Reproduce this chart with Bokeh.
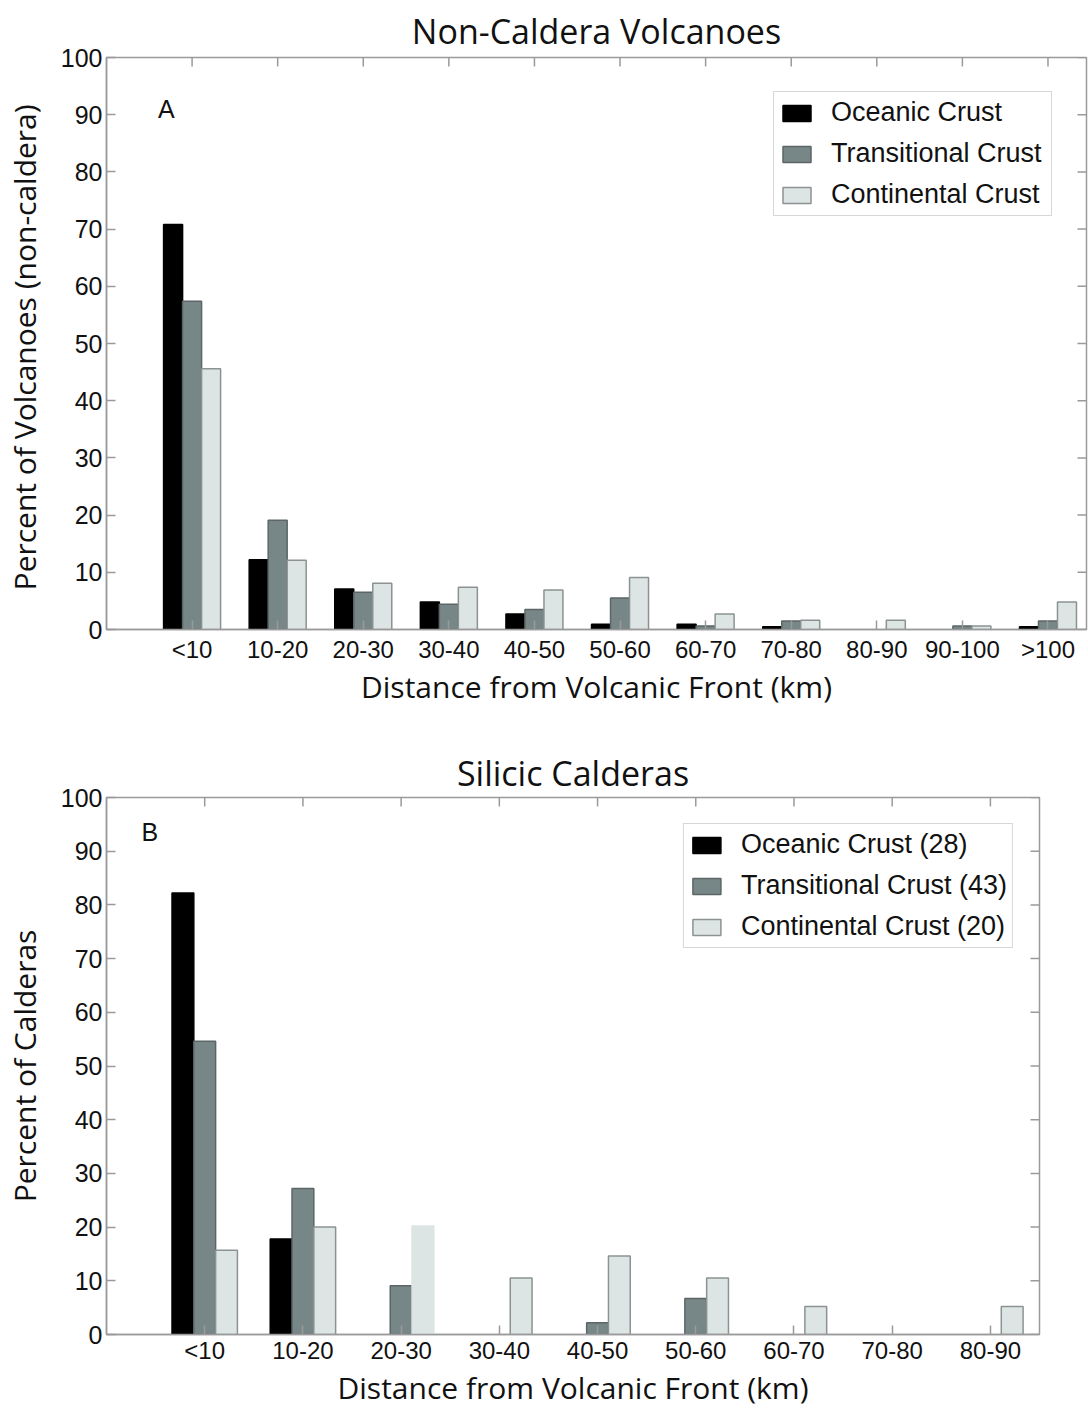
from bokeh.plotting import figure
from bokeh.models import Range1d, FixedTicker, Label, Legend, LegendItem, ColumnDataSource
from bokeh.layouts import column
from bokeh.embed import file_html
from bokeh.resources import INLINE
import numpy as np

# ---------------- data ----------------
cats_a = ["<10", "10-20", "20-30", "30-40", "40-50", "50-60", "60-70", "70-80", "80-90", "90-100", ">100"]
oceanic_a = [70.8, 12.2, 7.1, 4.8, 2.7, 0.9, 0.9, 0.5, 0.0, 0.0, 0.5]
transitional_a = [57.4, 19.1, 6.5, 4.4, 3.5, 5.5, 0.6, 1.5, 0.0, 0.6, 1.5]
continental_a = [45.6, 12.1, 8.1, 7.4, 6.9, 9.1, 2.7, 1.6, 1.6, 0.6, 4.8]

cats_b = ["<10", "10-20", "20-30", "30-40", "40-50", "50-60", "60-70", "70-80", "80-90"]
oceanic_b = [82.2, 17.8, 0.0, 0.0, 0.0, 0.0, 0.0, 0.0, 0.0]
transitional_b = [54.6, 27.2, 9.1, 0.0, 2.2, 6.7, 0.0, 0.0, 0.0]
continental_b = [15.7, 20.0, 20.2, 10.5, 14.6, 10.5, 5.2, 0.0, 5.2]

legend_a = ["Oceanic Crust", "Transitional Crust", "Continental Crust"]
legend_b = ["Oceanic Crust (28)", "Transitional Crust (43)", "Continental Crust (20)"]
y_ticks = list(range(0, 101, 10))

# ---------------- style ----------------
AX = "#9a9a9a"
FILLS = ["#000000", "#778787", "#dde4e4"]
LINES = ["#000000", "#5c6666", "#8c9292"]
BAR_W = 0.222
OFFS = [-BAR_W, 0.0, BAR_W]
TICK_FONT = "Liberation Sans"
LAB_FONT = "Open Sans"


def style_axis(ax, ticks, labels, size):
    ax.ticker = FixedTicker(ticks=ticks)
    ax.axis_line_color = AX
    ax.axis_line_width = 1.5
    ax.major_tick_line_color = AX
    ax.major_tick_line_width = 1.5
    ax.major_tick_in = 9
    ax.major_tick_out = 0
    ax.minor_tick_line_color = None
    ax.major_label_text_font = TICK_FONT
    ax.major_label_text_color = "#111111"
    ax.major_label_text_font_size = size
    ax.major_label_overrides = labels
    ax.axis_label_text_font = LAB_FONT
    ax.axis_label_text_font_size = "30px"
    ax.axis_label_text_font_style = "normal"
    ax.axis_label_text_color = "#111111"


def make_panel(cats, series, names, title, ylabel, letter, letter_xy, xmax, width, height,
               borders, title_standoff, xtick_standoff, legend_margin, label_width,
               unframed=()):
    n = len(cats)
    idx = np.arange(1, n + 1)
    xticks = [int(i) for i in idx]
    p = figure(width=width, height=height, x_range=Range1d(0, xmax), y_range=Range1d(0, 100),
               output_backend="svg", toolbar_location=None,
               min_border_left=borders[0], min_border_right=borders[1],
               min_border_top=borders[2], min_border_bottom=borders[3])
    p.background_fill_color = "white"
    p.border_fill_color = "white"
    p.outline_line_color = AX
    p.outline_line_width = 1.5
    p.xgrid.visible = False
    p.ygrid.visible = False

    p.title.text = title
    p.title.align = "center"
    p.title.text_font = LAB_FONT
    p.title.text_font_size = "34px"
    p.title.text_font_style = "normal"
    p.title.text_color = "#111111"
    p.title.standoff = title_standoff

    items = []
    for k, vals in enumerate(series):
        v = np.asarray(vals, dtype=float)
        m = v > 0
        lc = np.array([FILLS[k] if (k, j) in unframed else LINES[k] for j in range(n)])
        src = ColumnDataSource(dict(x=(idx + OFFS[k])[m], top=v[m], lc=lc[m]))
        r = p.vbar(x="x", top="top", bottom=0, width=BAR_W, source=src,
                   fill_color=FILLS[k], line_color="lc", line_width=1.5)
        items.append(LegendItem(label=names[k], renderers=[r]))

    style_axis(p.xaxis[0], xticks, {t: c for t, c in zip(xticks, cats)}, "24px")
    p.xaxis.major_label_standoff = xtick_standoff
    p.xaxis.axis_label = "Distance from Volcanic Front (km)"
    p.xaxis.axis_label_standoff = 0

    style_axis(p.yaxis[0], y_ticks, {}, "25px")
    p.yaxis.major_label_standoff = 4
    p.yaxis.axis_label = ylabel
    p.yaxis.axis_label_standoff = 13

    # inward ticks on the top and right edges of the box (matlab style)
    p.ray(x=xticks, y=[100] * n, length=9, length_units="screen", angle=-np.pi / 2,
          line_color=AX, line_width=1.5)
    p.ray(x=[xmax] * len(y_ticks), y=y_ticks, length=9, length_units="screen", angle=np.pi,
          line_color=AX, line_width=1.5)

    p.add_layout(Label(x=letter_xy[0], y=letter_xy[1], text=letter, text_font=TICK_FONT,
                       text_font_size="25px", text_color="#111111",
                       text_align="center", text_baseline="middle"))

    leg = Legend(items=items, location="top_right", margin=legend_margin,
                 label_text_font=TICK_FONT, label_text_font_size="27px",
                 label_text_color="#111111", label_height=28, label_width=label_width,
                 label_standoff=17, glyph_width=35, glyph_height=20, spacing=10, padding=5,
                 border_line_color="#b0b0b0", border_line_width=1.5,
                 background_fill_color="white", background_fill_alpha=1.0)
    leg.items[2].renderers[0].glyph.line_color = "lc"
    p.add_layout(leg)
    return p


pa = make_panel(cats_a, [oceanic_a, transitional_a, continental_a], legend_a,
                "Non-Caldera Volcanoes", "Percent of  Volcanoes (non-caldera)", "A", (0.7, 91),
                11.45, 1088, 740, (104, 2, 57, 111), 8, 6, 34, 215)
pb = make_panel(cats_b, [oceanic_b, transitional_b, continental_b], legend_b,
                "Silicic Calderas", "Percent of Calderas", "B", (0.44, 93.5),
                9.5, 1041, 670, (104, 2, 57, 73), 4, 2, 26, 262, unframed=((2, 2),))

layout = column(pa, pb, spacing=0)
open("out.html", "w").write(file_html(layout, INLINE))
